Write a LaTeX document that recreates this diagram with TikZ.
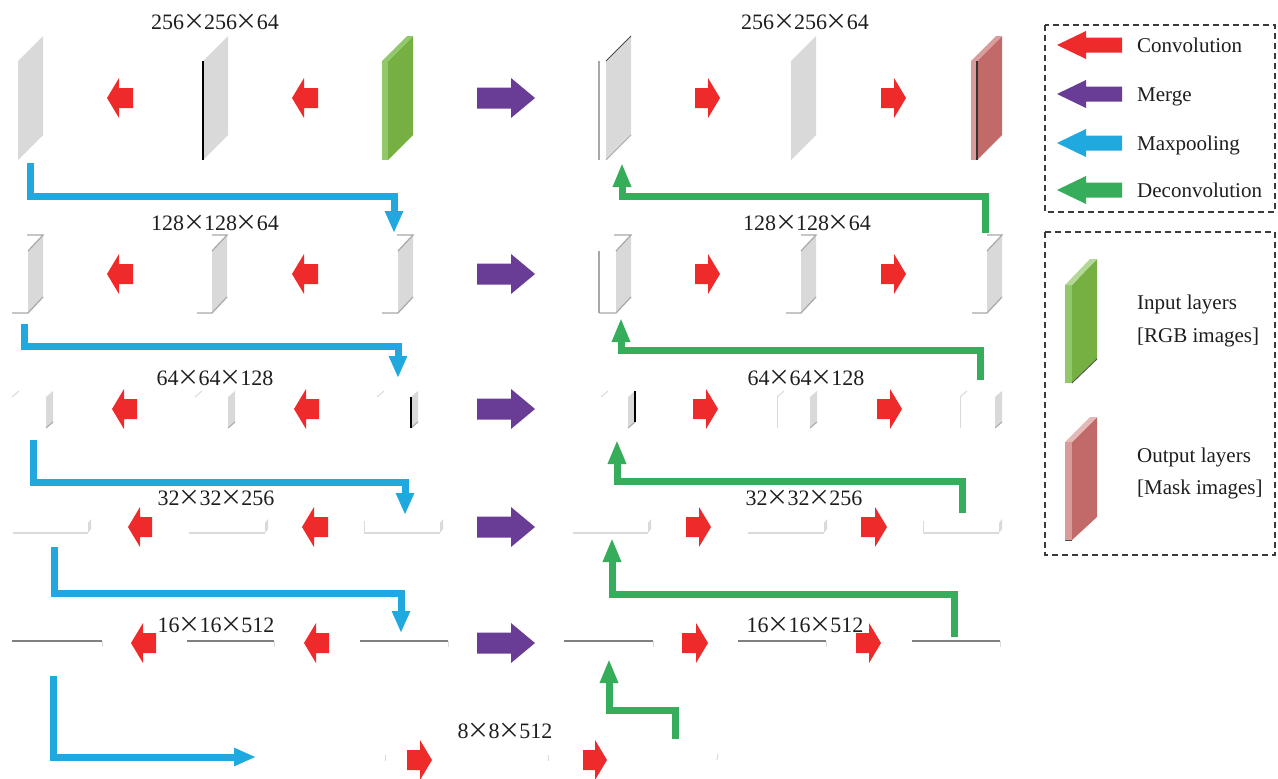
\documentclass[tikz,border=0pt]{standalone}
\usepackage{fontspec}
\setmainfont{Liberation Serif}
\newfontfamily\cjkf{Noto Sans CJK SC}
\usetikzlibrary{arrows.meta}
\definecolor{convred}{HTML}{EE2A2A}
\definecolor{mergepurple}{HTML}{693D96}
\definecolor{poolblue}{HTML}{1FA9DF}
\definecolor{deconvgreen}{HTML}{36AD5A}
\definecolor{laygray}{HTML}{D9D9D9}
\definecolor{ingreen}{HTML}{76B043}
\definecolor{inlight}{HTML}{92C86C}
\definecolor{outred}{HTML}{C16A69}
\definecolor{outlight}{HTML}{D89C9B}
\definecolor{edgegray}{HTML}{A8A8A8}
\definecolor{lightedge}{HTML}{DADADA}
\definecolor{boxgray}{HTML}{3A3A3A}
\definecolor{txt}{HTML}{1E1E1E}
\newcommand\tmx{\makebox[0.9em][c]{\cjkf ×}}
% side face of a layer: x, ytop, w, h, dx, dy, colour
\newcommand\lside[7]{\fill[#7] (#1+#3,#2) -- ++(#5,-#6) -- ++(0,#4) -- ++(-#5,#6) -- cycle;}
% block arrows: colour, x-left, x-right, y-centre, head length, head half, shaft half
\newcommand\blockL[7]{\fill[#1] (#2,#4) -- (#2+#5,#4-#6) -- (#2+#5,#4-#7) -- (#3,#4-#7) -- (#3,#4+#7) -- (#2+#5,#4+#7) -- (#2+#5,#4+#6) -- cycle;}
\newcommand\blockR[7]{\fill[#1] (#3,#4) -- (#3-#5,#4-#6) -- (#3-#5,#4-#7) -- (#2,#4-#7) -- (#2,#4+#7) -- (#3-#5,#4+#7) -- (#3-#5,#4+#6) -- cycle;}
\newcommand\cubeTwo[2]{\lside{#1}{251}{#2}{62}{15}{16}{laygray}
  \draw[edgegray,line width=1.2pt] (#1,313) -- (#1+#2,313) -- ++(15,-16);
  \draw[edgegray,line width=1.2pt] (#1+#2,251) -- ++(15,-16) -- ++(-#2,0);}
\newcommand\cubeThree[2]{\lside{#1}{397}{#2}{31}{7}{6}{laygray}
  \draw[lightedge,line width=1pt] (#1,397) -- ++(7,-6);
  \draw[edgegray,line width=1pt] (#1+#2,428) -- ++(7,-6);}
\newcommand\cubeFour[2]{\lside{#1}{523}{#2}{10}{3}{4}{laygray}
  \draw[lightedge,line width=1.5pt] (#1,533) -- (#1+#2,533);}
\newcommand\cubeFive[2]{\draw[gray,line width=1.2pt] (#1,641) -- (#1+#2,641);
  \draw[lightedge,line width=1pt] (#1+#2,641) -- ++(0,6);}
\begin{document}
\begin{tikzpicture}[x=1pt,y=-1pt,
  pool/.style={draw=poolblue,line width=7pt,-{Triangle[width=17pt,length=22pt]}},
  deconv/.style={draw=deconvgreen,line width=7pt,-{Triangle[width=17pt,length=24pt]}},
  dim/.style={font=\fontsize{22}{26}\selectfont,anchor=base,inner sep=0pt,text=txt},
  legtext/.style={font=\fontsize{21}{25}\selectfont,anchor=base west,inner sep=0pt,text=txt},
  legbox/.style={draw=boxgray,line width=1.3pt,dash pattern=on 6pt off 4pt}]
\fill[white] (0,0) rectangle (1278,779);
\useasboundingbox (0,0) rectangle (1278,779);

% ---------- row 1 ----------
\lside{18}{61}{0}{99}{25}{25}{laygray}
\lside{203}{61}{0}{99}{25}{25}{laygray}
\draw[black,line width=1.2pt] (203,61) -- (203,160);
\lside{382}{61}{6}{99}{25}{25}{ingreen}
\fill[inlight] (382,61) rectangle (388,160);
\fill[inlight] (382,61) -- (407,36) -- (413,36) -- (388,61) -- cycle;
\lside{599}{61}{7}{99}{25}{25}{laygray}
\draw[edgegray,line width=1.2pt] (599,61) -- (599,160);
\draw[black!70,line width=1pt] (606,61) -- (631,36);
\draw[edgegray,line width=1pt] (606,160) -- (631,135);
\lside{791}{61}{0}{99}{25}{25}{laygray}
\lside{971}{61}{6}{99}{25}{25}{outred}
\fill[outlight] (971,61) rectangle (977,160);
\fill[outlight] (971,61) -- (996,36) -- (1002,36) -- (977,61) -- cycle;
\draw[black!80,line width=1.2pt] (977,61) -- (977,160);

% ---------- row 2 ----------
\cubeTwo{12}{16}
\cubeTwo{197}{15}
\cubeTwo{382}{16}
\cubeTwo{599}{17}
\draw[edgegray,line width=1.2pt] (599,251) -- (599,313);
\cubeTwo{786}{15}
\cubeTwo{972}{15}

% ---------- row 3 ----------
\cubeThree{12}{34}
\cubeThree{195}{33}
\cubeThree{377}{34}
\draw[black,line width=1.2pt] (411,397) -- (411,428);
\cubeThree{601}{27}
\draw[black,line width=1.2pt] (635,391) -- (635,422);
\cubeThree{777}{33}
\draw[lightedge,line width=1pt] (777,397) -- (777,428);
\cubeThree{960}{35}
\draw[lightedge,line width=1pt] (960,397) -- (960,428);

% ---------- row 4 ----------
\cubeFour{13}{75}
\cubeFour{189}{76}
\cubeFour{364}{76}
\draw[lightedge,line width=1pt] (364,521) -- (364,533);
\cubeFour{573}{75}
\cubeFour{748}{76}
\cubeFour{923}{76}
\draw[lightedge,line width=1pt] (923,521) -- (923,533);

% ---------- row 5 ----------
\cubeFive{12}{90}
\cubeFive{187}{87}
\cubeFive{360}{88}
\cubeFive{564}{89}
\cubeFive{738}{88}
\cubeFive{912}{88}

% ---------- row 6 ----------
\draw[lightedge,line width=1pt] (385,755) -- (385,761);
\draw[lightedge,line width=1pt] (548,755) -- (548,761);
\draw[lightedge,line width=1pt] (718,754) -- (717,760);

% ---------- convolution arrows ----------
\blockL{convred}{107}{133}{98}{12}{20}{10}
\blockL{convred}{292}{318}{98}{12}{20}{10}
\blockL{convred}{107}{133}{274}{12}{20}{10}
\blockL{convred}{292}{318}{274}{12}{20}{10}
\blockL{convred}{112}{137}{409}{12}{20}{10}
\blockL{convred}{294}{319}{409}{12}{20}{10}
\blockL{convred}{128}{152}{527}{12}{20}{10}
\blockL{convred}{302}{328}{527}{12}{20}{10}
\blockL{convred}{131}{156}{643}{12}{20}{10}
\blockL{convred}{304}{329}{643}{12}{20}{10}
\blockR{convred}{695}{720}{98}{12}{20}{10}
\blockR{convred}{881}{906}{98}{12}{20}{10}
\blockR{convred}{695}{720}{274}{12}{20}{10}
\blockR{convred}{881}{906}{274}{12}{20}{10}
\blockR{convred}{693}{718}{409}{12}{20}{10}
\blockR{convred}{877}{902}{409}{12}{20}{10}
\blockR{convred}{686}{711}{527}{12}{20}{10}
\blockR{convred}{861}{887}{527}{12}{20}{10}
\blockR{convred}{682}{708}{643}{12}{20}{10}
\blockR{convred}{856}{881}{643}{12}{20}{10}
\blockR{convred}{407}{432}{760}{12}{20}{10}
\blockR{convred}{583}{607}{760}{12}{20}{10}

% ---------- merge arrows ----------
\blockR{mergepurple}{477}{535}{98}{24}{20}{10.5}
\blockR{mergepurple}{477}{535}{274}{24}{20}{10.5}
\blockR{mergepurple}{477}{535}{409}{24}{20}{10.5}
\blockR{mergepurple}{477}{535}{527}{24}{20}{10.5}
\blockR{mergepurple}{477}{535}{643}{24}{20}{10.5}

% ---------- connector end points ----------
\coordinate (p1s) at (30,163);  \coordinate (p1e) at (394,233);
\coordinate (p2s) at (24,324);  \coordinate (p2e) at (398,378);
\coordinate (p3s) at (33,440);  \coordinate (p3e) at (405,515);
\coordinate (p4s) at (54,547);  \coordinate (p4e) at (401,633);
\coordinate (p5s) at (53,676);  \coordinate (p5e) at (256,757);
\coordinate (d1s) at (985,233); \coordinate (d1e) at (622,163);
\coordinate (d2s) at (980,380); \coordinate (d2e) at (621,318);
\coordinate (d3s) at (962,513); \coordinate (d3e) at (617,440);
\coordinate (d4s) at (954,637); \coordinate (d4e) at (612,538);
\coordinate (d5s) at (675,739); \coordinate (d5e) at (609,659);

% ---------- maxpooling ----------
\draw[pool] (p1s) -- ++(0,33) -| (p1e);
\draw[pool] (p2s) -- ++(0,22) -| (p2e);
\draw[pool] (p3s) -- ++(0,42) -| (p3e);
\draw[pool] (p4s) -- ++(0,46) -| (p4e);
\draw[pool] (p5s) |- (p5e);

% ---------- deconvolution ----------
\draw[deconv] (d1s) -- ++(0,-37) -| (d1e);
\draw[deconv] (d2s) -- ++(0,-30) -| (d2e);
\draw[deconv] (d3s) -- ++(0,-32) -| (d3e);
\draw[deconv] (d4s) -- ++(0,-43) -| (d4e);
\draw[deconv] (d5s) -- ++(0,-29) -| (d5e);

% ---------- dimension labels ----------
\node[dim] (t1l) at (215,30) {256\tmx256\tmx64};
\node[dim] (t1r) at (805,30) {256\tmx256\tmx64};
\node[dim] (t2l) at (215,230) {128\tmx128\tmx64};
\node[dim] (t2r) at (807,230) {128\tmx128\tmx64};
\node[dim] (t3l) at (215,385) {64\tmx64\tmx128};
\node[dim] (t3r) at (806,385) {64\tmx64\tmx128};
\node[dim] (t4l) at (216,505) {32\tmx32\tmx256};
\node[dim] (t4r) at (804,505) {32\tmx32\tmx256};
\node[dim] (t5l) at (216,632) {16\tmx16\tmx512};
\node[dim] (t5r) at (805,632) {16\tmx16\tmx512};
\node[dim] (t6) at (505,738) {8\tmx8\tmx512};

% ---------- legend ----------
\draw[legbox] (1045,25) rectangle (1275,212);
\draw[legbox] (1045,232) rectangle (1275,555);
\blockL{convred}{1057}{1122}{45}{29}{14}{7.5}
\blockL{mergepurple}{1057}{1122}{94}{29}{14}{7.5}
\blockL{poolblue}{1057}{1122}{143}{29}{14}{7.5}
\blockL{deconvgreen}{1057}{1122}{190}{29}{14}{7.5}
\node[legtext] (lconv) at (1137,52) {Convolution};
\node[legtext] (lmerge) at (1137,101) {Merge};
\node[legtext] (lpool) at (1137,150) {Maxpooling};
\node[legtext] (ldeconv) at (1137,197) {Deconvolution};
\fill[ingreen] (1072,285) -- (1097,259) -- (1097,359) -- (1072,383) -- cycle;
\fill[inlight] (1065,285) rectangle (1072,383);
\fill[inlight!70!white] (1065,285) -- (1090,259) -- (1097,259) -- (1072,285) -- cycle;
\draw[black!70,line width=0.8pt] (1072,383) -- (1097,359);
\fill[outred] (1072,442) -- (1097,417) -- (1097,517) -- (1072,540) -- cycle;
\fill[outlight] (1065,442) rectangle (1072,540);
\fill[outlight!70!white] (1065,442) -- (1090,417) -- (1097,417) -- (1072,442) -- cycle;
\draw[black!70,line width=0.8pt] (1065,540) -- (1072,540);
\node[legtext] (lin1) at (1137,309) {Input layers};
\node[legtext] (lin2) at (1137,342) {[RGB images]};
\node[legtext] (lout1) at (1137,462) {Output layers};
\node[legtext] (lout2) at (1137,494) {[Mask images]};
\end{tikzpicture}
\end{document}
